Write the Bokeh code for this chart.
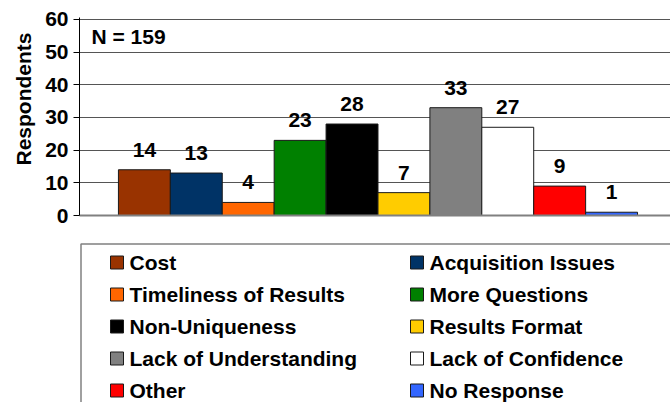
from bokeh.plotting import figure
from bokeh.models import Range1d, Label, ColumnDataSource, FixedTicker, Title
from bokeh.layouts import column
from bokeh.embed import file_html
from bokeh.resources import INLINE
from bokeh.core.properties import value

categories = ["Cost", "Acquisition Issues", "Timeliness of Results", "More Questions",
              "Non-Uniqueness", "Results Format", "Lack of Understanding",
              "Lack of Confidence", "Other", "No Response"]
respondents = [14, 13, 4, 23, 28, 7, 33, 27, 9, 1]
colors = ["#993300", "#003366", "#FF6600", "#008000", "#000000",
          "#FFCC00", "#808080", "#FFFFFF", "#FF0000", "#3366FF"]
y_ticks = [0, 10, 20, 30, 40, 50, 60]
n_label = "N = 159"
y_title = "Respondents"

FONT = "Liberation Sans"
FS = "21px"

idx = list(range(len(categories)))
src = ColumnDataSource(dict(x=idx, top=respondents, color=colors,
                            label=[str(v) for v in respondents], cat=categories))

p = figure(width=670, height=235, output_backend="svg", toolbar_location=None,
           x_range=Range1d(-1.25, 10.135), y_range=Range1d(0, 60.61),
           min_border_left=78, min_border_right=0, min_border_top=17, min_border_bottom=20)
p.outline_line_color = None
p.background_fill_color = "white"
p.border_fill_color = "white"

p.vbar(x="x", top="top", bottom=0, width=1.0, fill_color="color", line_color="#1a1a1a",
       line_width=1, source=src)
p.text(x="x", y="top", text="label", source=src, text_align="center", text_baseline="middle",
       y_offset=-20, text_font=value(FONT), text_font_style="bold", text_font_size=FS,
       text_color="black")

p.yaxis.ticker = FixedTicker(ticks=y_ticks)
p.yaxis.minor_tick_line_color = None
p.yaxis.major_tick_out = 6
p.yaxis.major_tick_in = 0
p.yaxis.axis_line_color = "black"
p.yaxis.major_tick_line_color = "black"
p.yaxis.major_label_text_font = FONT
p.yaxis.major_label_text_font_style = "bold"
p.yaxis.major_label_text_font_size = FS
p.yaxis.major_label_text_color = "black"
p.yaxis.major_label_standoff = 5

p.xaxis.ticker = FixedTicker(ticks=[])
p.xaxis.major_label_text_font_size = "0px"
p.xaxis.major_tick_line_color = None
p.xaxis.minor_tick_line_color = None
p.xaxis.axis_line_color = "#808080"
p.xaxis.axis_line_width = 2

p.xgrid.grid_line_color = None
p.ygrid.ticker = FixedTicker(ticks=y_ticks[1:])
p.ygrid.grid_line_color = "#555555"
p.ygrid.grid_line_width = 1

p.add_layout(Title(text=y_title, align="right", offset=15, text_font=FONT,
                   text_font_style="bold", text_font_size=FS, text_color="black",
                   standoff=16), "left")
p.add_layout(Label(x=-1.02, y=54.8, text=n_label, text_align="left", text_baseline="middle",
                   text_font=FONT, text_font_style="bold", text_font_size=FS,
                   text_color="black"))

# legend panel
p2 = figure(width=670, height=167, output_backend="svg", toolbar_location=None,
            x_range=Range1d(79, 670), y_range=Range1d(402, 242),
            x_axis_type=None, y_axis_type=None,
            min_border_left=79, min_border_right=0, min_border_top=7, min_border_bottom=0)
p2.outline_line_color = None
p2.xgrid.grid_line_color = None
p2.ygrid.grid_line_color = None

col_sw = [110, 410]
col_tx = [129, 429]
row_y0, row_step = 262, 32
sw = 13
leg = ColumnDataSource(dict(
    sx=[col_sw[i % 2] + sw / 2 for i in idx],
    tx=[col_tx[i % 2] for i in idx],
    y=[row_y0 + row_step * (i // 2) for i in idx],
    color=colors, cat=categories))
p2.quad(left=80.5, right=720, top=243.5, bottom=450, fill_color=None,
        line_color="#808080", line_width=1.5)
p2.rect(x="sx", y="y", width=sw, height=sw, fill_color="color", line_color="#1a1a1a",
        line_width=1, source=leg)
p2.text(x="tx", y="y", text="cat", source=leg, text_align="left", text_baseline="middle",
        text_font=value(FONT), text_font_style="bold", text_font_size=FS, text_color="black")

layout = column(p, p2, spacing=0)
open("out.html", "w").write(file_html(layout, INLINE))
